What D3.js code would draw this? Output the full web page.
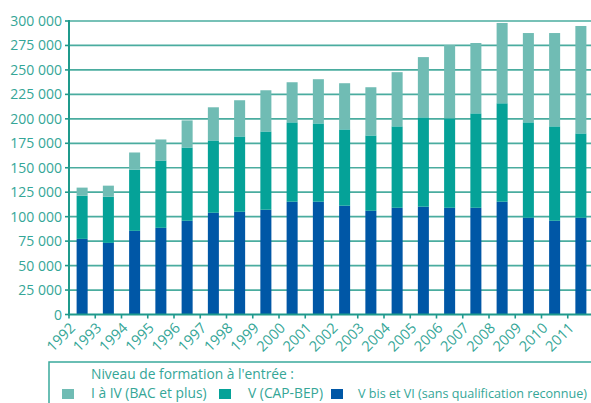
<!DOCTYPE html>
<html>
<head>
<meta charset="utf-8">
<script src="https://d3js.org/d3.v7.min.js"></script>
<style>
  body { margin: 0; background: #fff; }
  text { font-family: "Open Sans", "Noto Sans", sans-serif; fill: #35a697; }
</style>
</head>
<body>
<div id="chart"></div>
<script>
// values (number of entrants)
var years = ["1992", "1993", "1994", "1995", "1996", "1997", "1998", "1999", "2000", "2001",
             "2002", "2003", "2004", "2005", "2006", "2007", "2008", "2009", "2010", "2011"];
var vbisVI = [77300, 73200, 85500, 88600, 95800, 104000, 105000, 107100, 115300, 115300,
              111200, 106000, 109100, 110200, 109100, 109100, 115300, 98900, 95800, 98900];
var capBep = [44100, 47200, 62600, 68800, 74900, 73900, 77000, 80000, 81100, 80000,
              78000, 77000, 83200, 91300, 91400, 96500, 100600, 97500, 96500, 86200];
var bacPlus = [8300, 11300, 17500, 21500, 27700, 33900, 37000, 42100, 41000, 45200,
               47200, 49300, 55400, 61600, 74900, 71900, 82100, 91300, 95400, 109800];
var yTicks = [0, 25000, 50000, 75000, 100000, 125000, 150000, 175000, 200000, 225000, 250000, 275000, 300000];
var seriesKeys = ["vbis", "cap", "bac"];
var seriesColors = { vbis: "#0057a6", cap: "#05a298", bac: "#70bcb4" };
var legendTitle = "Niveau de formation à l'entrée :";
var legendItems = [
  { key: "bac", label: "I à IV  (BAC et plus)" },
  { key: "cap", label: "V (CAP-BEP)" },
  { key: "vbis", label: "V bis et VI (sans qualification reconnue)" }
];

var width = 591, height = 403;
var axisColor = "#1f9a8c";

var svg = d3.select("#chart").append("svg")
  .attr("width", width)
  .attr("height", height);

var data = years.map(function (yr, i) {
  return { year: yr, vbis: vbisVI[i], cap: capBep[i], bac: bacPlus[i] };
});

var stack = d3.stack().keys(seriesKeys);
var layers = stack(data);

var x = d3.scaleBand()
  .domain(years)
  .range([69, 594])
  .paddingInner(0.58)
  .paddingOuter(0.29);

var y = d3.scaleLinear()
  .domain([0, 300000])
  .range([314.5, 21]);

var fmt = function (d) {
  return d3.format(",")(d).replace(/,/g, " ");
};

// gridlines
svg.append("g")
  .selectAll("line")
  .data(yTicks.slice(1))
  .enter()
  .append("line")
  .attr("x1", 69)
  .attr("x2", width)
  .attr("y1", function (d) { return y(d); })
  .attr("y2", function (d) { return y(d); })
  .attr("stroke", "#4aac9f")
  .attr("stroke-width", 1.7);

// bars
svg.append("g")
  .selectAll("g")
  .data(layers)
  .enter()
  .append("g")
  .attr("fill", function (d) { return seriesColors[d.key]; })
  .selectAll("rect")
  .data(function (d) { return d; })
  .enter()
  .append("rect")
  .attr("x", function (d) { return x(d.data.year); })
  .attr("width", x.bandwidth())
  .attr("y", function (d) { return y(d[1]); })
  .attr("height", function (d) { return y(d[0]) - y(d[1]); });

// y axis
var yAxis = svg.append("g");
yAxis.append("line")
  .attr("x1", 69).attr("x2", 69)
  .attr("y1", y(300000) - 1).attr("y2", y(0) + 1)
  .attr("stroke", axisColor).attr("stroke-width", 2);
yAxis.selectAll("line.tick")
  .data(yTicks)
  .enter()
  .append("line")
  .attr("class", "tick")
  .attr("x1", 65).attr("x2", 69)
  .attr("y1", function (d) { return y(d); })
  .attr("y2", function (d) { return y(d); })
  .attr("stroke", axisColor).attr("stroke-width", 1.6);
yAxis.selectAll("text")
  .data(yTicks)
  .enter()
  .append("text")
  .attr("x", 62)
  .attr("y", function (d) { return y(d); })
  .attr("dy", "0.36em")
  .attr("text-anchor", "end")
  .style("font-size", "14px")
  .text(fmt);

// x axis
var xAxis = svg.append("g");
xAxis.append("line")
  .attr("x1", 68).attr("x2", width)
  .attr("y1", y(0)).attr("y2", y(0))
  .attr("stroke", axisColor).attr("stroke-width", 2.2);
var bounds = years.map(function (yr) { return x(yr) - x.step() * x.paddingOuter(); });
xAxis.selectAll("line.tick")
  .data(bounds)
  .enter()
  .append("line")
  .attr("class", "tick")
  .attr("x1", function (d) { return d; })
  .attr("x2", function (d) { return d; })
  .attr("y1", y(0))
  .attr("y2", y(0) + 4)
  .attr("stroke", axisColor).attr("stroke-width", 1.6);
xAxis.selectAll("text")
  .data(years)
  .enter()
  .append("text")
  .attr("transform", function (d) {
    return "translate(" + (x(d) + x.bandwidth() / 2 - 6) + "," + 329 + ") rotate(-45)";
  })
  .attr("text-anchor", "end")
  .style("font-size", "14.5px")
  .text(function (d) { return d; });

// legend
var legend = svg.append("g");
legend.append("rect")
  .attr("x", 49).attr("y", 362)
  .attr("width", 600).attr("height", 60)
  .attr("fill", "none")
  .attr("stroke", "#3aa99c")
  .attr("stroke-width", 1.5);
legend.append("text")
  .attr("x", 91).attr("y", 379)
  .style("font-size", "13.8px")
  .text(legendTitle);
var legendX = [62, 219, 331];
legendItems.forEach(function (item, i) {
  legend.append("rect")
    .attr("x", legendX[i]).attr("y", 389)
    .attr("width", 12).attr("height", 10)
    .attr("fill", seriesColors[item.key]);
  legend.append("text")
    .attr("x", legendX[i] + (i === 2 ? 27 : 29)).attr("y", 398)
    .style("font-size", i === 2 ? "12.6px" : "13.8px")
    .text(item.label);
});
</script>
</body>
</html>
